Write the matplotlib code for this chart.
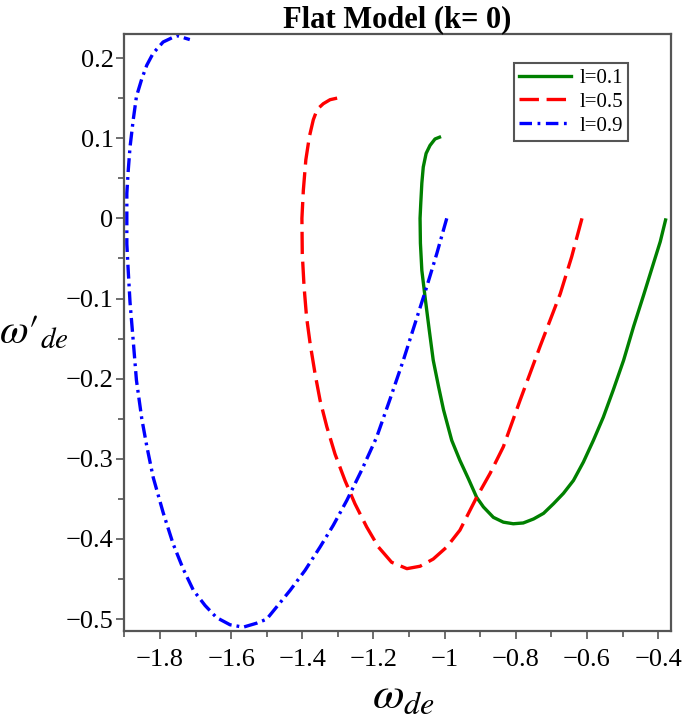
import matplotlib
matplotlib.use("Agg")
import matplotlib.pyplot as plt
from matplotlib.ticker import MultipleLocator, FuncFormatter
from matplotlib.lines import Line2D

# ---- data ----
w_l01 = [-0.378, -0.394, -0.413, -0.441, -0.469, -0.497, -0.526, -0.554, -0.582, -0.610,
         -0.638, -0.666, -0.694, -0.722, -0.750, -0.779, -0.807, -0.835, -0.863, -0.891,
         -0.910, -0.933, -0.957, -0.980, -1.003, -1.017, -1.032, -1.043, -1.055, -1.064,
         -1.068, -1.069, -1.067, -1.064, -1.060, -1.052, -1.041, -1.027, -1.010]
wp_l01 = [0.000, -0.029, -0.056, -0.096, -0.135, -0.177, -0.214, -0.248, -0.277, -0.304,
          -0.327, -0.343, -0.356, -0.368, -0.375, -0.380, -0.381, -0.379, -0.373, -0.360,
          -0.348, -0.325, -0.302, -0.277, -0.239, -0.210, -0.177, -0.140, -0.098, -0.065,
          -0.031, 0.000, 0.019, 0.044, 0.064, 0.081, 0.091, 0.099, 0.102]

w_l05 = [-0.614, -0.643, -0.675, -0.732, -0.788, -0.835, -0.872, -0.910, -0.957, -0.994,
         -1.032, -1.069, -1.106, -1.149, -1.186, -1.219, -1.252, -1.280, -1.308, -1.331,
         -1.350, -1.364, -1.378, -1.388, -1.395, -1.400, -1.401, -1.397, -1.390, -1.380,
         -1.369, -1.358, -1.341, -1.322, -1.302]
wp_l05 = [0.000, -0.048, -0.094, -0.160, -0.227, -0.285, -0.318, -0.348, -0.389, -0.410,
          -0.425, -0.434, -0.437, -0.429, -0.410, -0.385, -0.356, -0.327, -0.294, -0.260,
          -0.227, -0.194, -0.156, -0.123, -0.085, -0.044, 0.000, 0.035, 0.073, 0.102,
          0.123, 0.136, 0.143, 0.148, 0.150]

w_l09 = [-0.994, -1.022, -1.050, -1.083, -1.116, -1.153, -1.191, -1.233, -1.275, -1.313,
         -1.350, -1.392, -1.434, -1.500, -1.528, -1.566, -1.603, -1.641, -1.673, -1.706,
         -1.735, -1.763, -1.791, -1.819, -1.837, -1.851, -1.866, -1.875, -1.884, -1.889,
         -1.893, -1.893, -1.893, -1.889, -1.884, -1.875, -1.866, -1.851, -1.837, -1.819,
         -1.791, -1.753, -1.716]
wp_l09 = [0.000, -0.044, -0.085, -0.131, -0.177, -0.225, -0.273, -0.314, -0.352, -0.383,
          -0.410, -0.439, -0.464, -0.500, -0.505, -0.510, -0.507, -0.498, -0.483, -0.464,
          -0.437, -0.406, -0.367, -0.323, -0.284, -0.250, -0.202, -0.153, -0.105, -0.066,
          -0.032, 0.000, 0.031, 0.060, 0.089, 0.123, 0.152, 0.174, 0.191, 0.206,
          0.220, 0.228, 0.223]

labels = ["l=0.1", "l=0.5", "l=0.9"]
title = "Flat Model (k= 0)"

# ---- style ----
plt.rcParams["font.family"] = ["Liberation Serif", "DejaVu Serif"]
plt.rcParams["mathtext.fontset"] = "stix"
plt.rcParams["lines.scale_dashes"] = False

fig = plt.figure(figsize=(6.85, 7.23), dpi=100)
ax = fig.add_axes([0.181, 0.127, 0.799, 0.826])

frame_col = "#555555"
lw = 2.4
ax.plot(w_l01, wp_l01, color="#008000", lw=lw, solid_capstyle="butt", solid_joinstyle="round")
ax.plot(w_l05, wp_l05, color="#ff0000", lw=lw, dashes=(16, 5.5), dash_capstyle="butt")
ax.plot(w_l09, wp_l09, color="#0000ff", lw=lw, dashes=(10, 3.6, 2, 3.6), dash_capstyle="butt")

ax.set_xlim(-1.901, -0.363)
ax.set_ylim(-0.515, 0.230)

ax.xaxis.set_major_locator(MultipleLocator(0.2))
ax.xaxis.set_minor_locator(MultipleLocator(0.1))
ax.yaxis.set_major_locator(MultipleLocator(0.1))
ax.yaxis.set_minor_locator(MultipleLocator(0.05))

def fmt(v, pos):
    v = round(v, 6)
    if abs(v) < 1e-9:
        return "0"
    s = "%g" % v
    return s.replace("-", "\u2212")

ax.xaxis.set_major_formatter(FuncFormatter(fmt))
ax.yaxis.set_major_formatter(FuncFormatter(fmt))

ax.tick_params(which="both", direction="out", color=frame_col, width=1.2,
               top=False, right=False, labelsize=19)
ax.tick_params(which="major", length=5.5)
ax.tick_params(which="minor", length=4.5)
ax.tick_params(axis="x", which="major", pad=7)
ax.tick_params(axis="y", which="major", pad=2)

for sp in ax.spines.values():
    sp.set_color(frame_col)
    sp.set_linewidth(1.6)

ax.set_title(title, fontsize=22, fontweight="bold", pad=2)

ax.set_xlabel(r"$\omega_{de}$", fontsize=33)
ax.xaxis.set_label_coords(0.51, -0.075)
ax.set_ylabel(r"$\omega\prime_{de}$", fontsize=30, rotation=0, va="center", ha="center")
ax.yaxis.set_label_coords(-0.165, 0.5)

handles = [Line2D([], [], color="#008000", lw=lw),
           Line2D([], [], color="#ff0000", lw=lw, dashes=(14, 5.5), dash_capstyle="butt"),
           Line2D([], [], color="#0000ff", lw=lw, dashes=(9, 4, 2, 4), dash_capstyle="butt")]
leg = ax.legend(handles, labels, loc="upper right", bbox_to_anchor=(0.921, 0.951),
                fontsize=15, frameon=True, fancybox=False, framealpha=1,
                edgecolor=frame_col, handlelength=2.5, handletextpad=0.4,
                labelspacing=0.2, borderpad=0.25, borderaxespad=0)
leg.get_frame().set_linewidth(1.5)

fig.savefig("out.png", dpi=100)
